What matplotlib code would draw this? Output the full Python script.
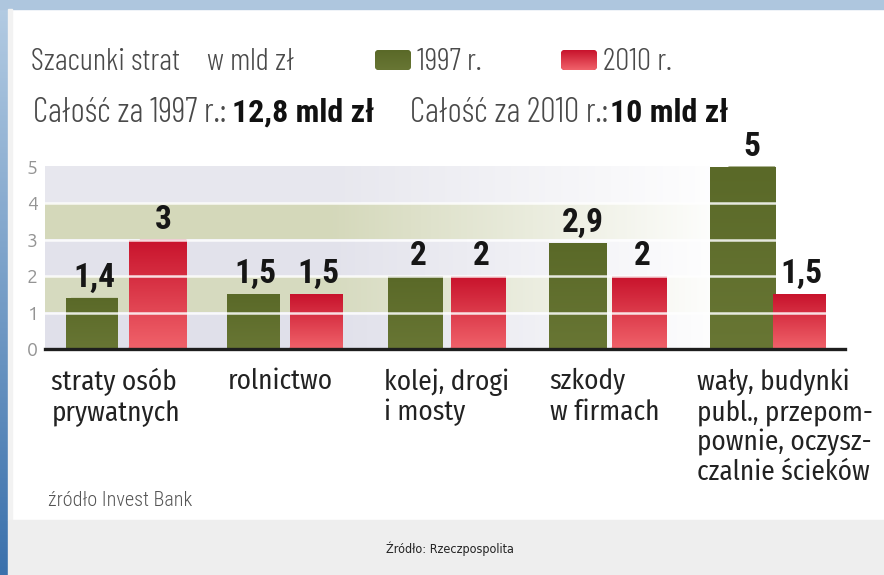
import numpy as np
import matplotlib
matplotlib.use("Agg")
import matplotlib.pyplot as plt
from matplotlib.transforms import Affine2D
from matplotlib.patches import Rectangle, FancyBboxPatch
from matplotlib.colors import LinearSegmentedColormap, to_rgb

# ---------------- data ----------------
categories = ["straty osób\nprywatnych", "rolnictwo", "kolej, drogi\ni mosty",
              "szkody\nw firmach",
              "wały, budynki\npubl., przepom-\npownie, oczysz-\nczalnie ścieków"]
values_1997 = [1.4, 1.5, 2.0, 2.9, 5.0]
values_2010 = [3.0, 1.5, 2.0, 2.0, 1.5]
series_labels = ["1997 r.", "2010 r."]
yticks = [0, 1, 2, 3, 4, 5]
title_left = "Szacunki strat"
unit_text = "w mld zł"
total_1997_lbl = "Całość za 1997 r.:"
total_1997 = "12,8 mld zł"
total_2010_lbl = "Całość za 2010 r.:"
total_2010 = "10 mld zł"
note = "źródło Invest Bank"
source = "Źródło: Rzeczpospolita"

# ---------------- style ----------------
HDRF = ["Barlow Condensed", "Roboto Condensed", "DejaVu Sans"]
COND = ["Roboto Condensed", "DejaVu Sans"]
LABF = ["Fira Sans Condensed", "PT Sans Narrow", "Roboto Condensed", "DejaVu Sans"]
TICKF = ["Ubuntu", "Fira Sans", "DejaVu Sans"]
GREEN_TOP, GREEN_BOT = "#5a6928", "#687634"
RED_TOP, RED_BOT = "#c8132c", "#f0626a"
W, H = 884, 575
PX_X = 161.0      # pixels per x unit
PX_Y = 36.5       # pixels per y unit
SLOPE = 0.023     # skew of bars (x units per y unit)

fig = plt.figure(figsize=(W / 100, H / 100), dpi=100)
fig.patch.set_facecolor("white")

# background / frame axes in pixel coordinates
bg = fig.add_axes([0, 0, 1, 1])
bg.axis("off")
blue = LinearSegmentedColormap.from_list("b", ["#b4cce3", "#3b71ac"])
bg.imshow(np.linspace(0, 1, 200).reshape(-1, 1), extent=(0, 8, H, 0),
          cmap=blue, aspect="auto", zorder=0)
bg.add_patch(Rectangle((0, 0), W, 9, color="#aec6de", zorder=1))
bg.add_patch(Rectangle((8, 9), 4, 511, color="#f2f2f2", zorder=1))
bg.add_patch(Rectangle((8, 520), W - 8, 55, color="#eeeeee", zorder=1))
bg.set_xlim(0, W)
bg.set_ylim(H, 0)

# header
hdr_col = "#4a4a4a"
hdr_kw = dict(fontsize=22.5, color=hdr_col, family=HDRF, fontweight=300, va="baseline")
hdr2_kw = dict(hdr_kw, fontsize=24.5)
bg.text(31, 70, title_left, **hdr_kw)
bg.text(207, 70, unit_text, **hdr_kw)
for xs, lbl, c0, c1 in [(375, series_labels[0], GREEN_TOP, GREEN_BOT),
                        (561, series_labels[1], RED_TOP, RED_BOT)]:
    sq = FancyBboxPatch((xs, 50), 36, 20, boxstyle="round,pad=0,rounding_size=4",
                        facecolor=c0, edgecolor="none", zorder=2)
    bg.add_patch(sq)
    g = LinearSegmentedColormap.from_list("g", [c0, c1])
    im = bg.imshow(np.linspace(0, 1, 50).reshape(-1, 1), extent=(xs, xs + 36, 70, 50),
                   cmap=g, aspect="auto", zorder=3)
    im.set_clip_path(sq)
    bg.text(xs + 42, 70, lbl, **hdr_kw)
bg.set_xlim(0, W)
bg.set_ylim(H, 0)

bg.text(33, 122, total_1997_lbl, **hdr2_kw)
bg.text(232, 122, total_1997, fontsize=23, color="#111111", family=COND,
        fontweight="bold", va="baseline")
bg.text(410, 122, total_2010_lbl, **hdr2_kw)
bg.text(610, 122, total_2010, fontsize=23, color="#111111", family=COND,
        fontweight="bold", va="baseline")

bg.text(48, 506, note, fontsize=14.5, color="#555555", family=COND, fontweight=300,
        va="baseline")
bg.text(450, 549, source, fontsize=9, color="#222222", family="DejaVu Sans",
        fontstretch="condensed", ha="center", va="center")

# ---------------- main chart ----------------
x0_px, x1_px, base_px = 45, 845, 349
ymax = 5.6
ax = fig.add_axes([x0_px / W, (H - base_px) / H, (x1_px - x0_px) / W, ymax * PX_Y / H])
ax.patch.set_alpha(0)
xmin, xmax = -0.47, -0.47 + (x1_px - x0_px) / PX_X

# background bands fading to the right
band_cols = ["#e0e0ea", "#d6dabf", "#e2e2eb", "#d4d8ba", "#e7e7ee"]
ncol = 400
xs_px = np.linspace(x0_px, x1_px, ncol)
alpha = np.clip((730 - xs_px) / (730 - 330), 0, 1)
img = np.zeros((5, ncol, 4))
for r, c in enumerate(band_cols):
    img[r, :, :3] = to_rgb(c)
    img[r, :, 3] = alpha
ax.imshow(img, extent=(xmin, xmax, 0, 5), origin="lower", aspect="auto", zorder=0,
          interpolation="nearest")

n = len(categories)
xc = np.arange(n)
off, width = 0.195, 0.29
skew = Affine2D().skew(np.arctan(SLOPE), 0)

def draw_series(xpos, vals, c_top, c_bot):
    bars = ax.bar(xpos, vals, width, color=c_top, linewidth=0, zorder=2)
    cmap = LinearSegmentedColormap.from_list("s", [c_bot, c_top])
    for b, v in zip(bars, vals):
        b.set_transform(skew + ax.transData)
        bx = b.get_x()
        im = ax.imshow(np.linspace(0, 1, 100).reshape(-1, 1),
                       extent=(bx - 0.01, bx + width + SLOPE * v + 0.01, 0, v),
                       origin="lower", cmap=cmap, aspect="auto", zorder=2.5)
        im.set_clip_path(b)
        lbl = f"{v:g}".replace(".", ",")
        ax.text(bx + width / 2 + SLOPE * v, v + 0.3, lbl, ha="center", va="baseline",
                fontsize=24, fontweight="bold", color="#161616", family=COND,
                clip_on=False, zorder=5)
    return bars

draw_series(xc - off, values_1997, GREEN_TOP, GREEN_BOT)
draw_series(xc + off, values_2010, RED_TOP, RED_BOT)

for y in yticks[1:-1]:
    ax.axhline(y, color="white", lw=1.8, alpha=0.85, zorder=4)
ax.axhline(0, color="#1e1e1e", lw=2.4, zorder=6, clip_on=False)

ax.set_xlim(xmin, xmax)
ax.set_ylim(0, ymax)
ax.set_yticks(yticks)
ax.set_yticklabels([str(t) for t in yticks], fontsize=14, color="#949494",
                   family=TICKF, fontweight=300)
ax.tick_params(axis="y", length=0, pad=5)
ax.set_xticks([])
for s in ax.spines.values():
    s.set_visible(False)

# category labels (left-aligned under each group)
label_shift = [-0.43, -0.335, -0.365, -0.335, -0.42]
for i, (cat, sh) in enumerate(zip(categories, label_shift)):
    ax.text(i + sh, -0.53, cat, ha="left", va="top", fontsize=19.5, color="#222222",
            family=LABF, linespacing=1.15, clip_on=False)

fig.savefig("out.png", dpi=100)
